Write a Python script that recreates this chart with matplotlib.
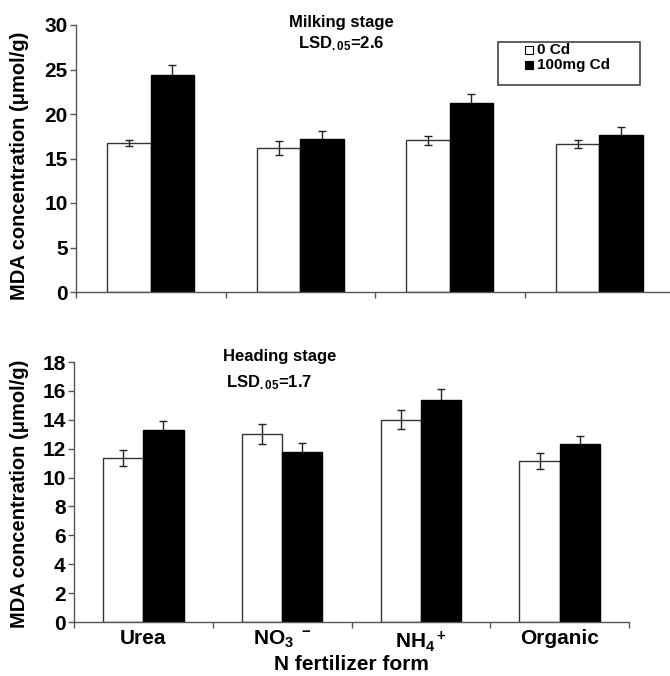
import matplotlib
matplotlib.use("Agg")
import matplotlib.pyplot as plt
import numpy as np
from matplotlib.patches import Rectangle

FAM = 'Liberation Sans'
plt.rcParams['font.family'] = [FAM, 'DejaVu Sans']
plt.rcParams['font.weight'] = 'bold'
plt.rcParams['mathtext.fontset'] = 'custom'
plt.rcParams['mathtext.rm'] = FAM + ':bold'
plt.rcParams['mathtext.it'] = FAM + ':bold'
plt.rcParams['mathtext.bf'] = FAM + ':bold'
plt.rcParams['mathtext.default'] = 'rm'

categories = ['Urea', r'NO$_3$ $^-$', r'NH$_4$$^+$', 'Organic']
series_names = ['0 Cd', '100mg Cd']

milk_0cd = [16.7, 16.15, 17.05, 16.6]
milk_0cd_err = [0.35, 0.8, 0.5, 0.45]
milk_cd = [24.35, 17.2, 21.2, 17.6]
milk_cd_err = [1.1, 0.9, 1.0, 0.9]

head_0cd = [11.35, 13.0, 14.0, 11.15]
head_0cd_err = [0.55, 0.7, 0.67, 0.55]
head_cd = [13.27, 11.8, 15.4, 12.32]
head_cd_err = [0.67, 0.58, 0.74, 0.56]

W, H = 670, 676
fig = plt.figure(figsize=(W / 100, H / 100), dpi=100)

def px_axes(left, top, right, bottom):
    return fig.add_axes([left / W, 1 - bottom / H, (right - left) / W, (bottom - top) / H])

ax1 = px_axes(76, 25, 674, 292)
ax2 = px_axes(74, 362, 629, 622)

x = np.arange(len(categories))
bw = 0.29

def draw(ax, v0, e0, v1, e1, ymax, ystep, ycenter):
    ax.bar(x - bw / 2, v0, bw, color='white', edgecolor='#333333', linewidth=1.0, zorder=2)
    ax.bar(x + bw / 2, v1, bw, color='black', edgecolor='black', linewidth=1.0, zorder=2)
    ax.errorbar(x - bw / 2, v0, yerr=e0, fmt='none', ecolor='#222222', elinewidth=1.0, capsize=3, capthick=1.0, zorder=3)
    ax.errorbar(x + bw / 2, v1, yerr=e1, fmt='none', ecolor='#222222', elinewidth=1.0, capsize=3, capthick=1.0, zorder=1)
    ax.set_xlim(-0.5, 3.5)
    ax.set_ylim(0, ymax)
    ax.set_yticks(np.arange(0, ymax + 0.1, ystep))
    ax.spines['top'].set_visible(False)
    ax.spines['right'].set_visible(False)
    for s in ('left', 'bottom'):
        ax.spines[s].set_color('#555555')
        ax.spines[s].set_linewidth(1.0)
    ax.set_xticks(np.arange(-0.5, 3.6, 1.0))
    ax.set_xticklabels([])
    ax.tick_params(axis='both', direction='out', length=4, width=1.0, color='#555555', labelsize=15, pad=2)
    for lab in ax.get_yticklabels():
        lab.set_fontweight('bold')
    fig.text(20 / W, 1 - ycenter / H, 'MDA concentration (μmol/g)', rotation=90, ha='center', va='center',
             fontsize=14.5, fontweight='bold')

draw(ax1, milk_0cd, milk_0cd_err, milk_cd, milk_cd_err, 30, 5, 166)
draw(ax2, head_0cd, head_0cd_err, head_cd, head_cd_err, 18, 2, 494)

ax2.set_xticks(x, minor=True)
ax2.set_xticklabels(categories, minor=True, fontsize=15, fontweight='bold')
ax2.tick_params(axis='x', which='minor', length=0, pad=5)
fig.text(351 / W, 1 - 664 / H, 'N fertilizer form', ha='center', va='center', fontsize=15, fontweight='bold')

fig.text(341 / W, 1 - 22 / H, 'Milking stage', ha='center', va='center', fontsize=12, fontweight='bold')
fig.text(341 / W, 1 - 44 / H, r'LSD$_{.05}$=2.6', ha='center', va='center', fontsize=12, fontweight='bold')
fig.text(280 / W, 1 - 356 / H, 'Heading stage', ha='center', va='center', fontsize=12, fontweight='bold')
fig.text(226 / W, 1 - 383 / H, r'LSD$_{.05}$=1.7', ha='left', va='center', fontsize=12, fontweight='bold')

# legend box
fig.patches.append(Rectangle((498 / W, 1 - 85 / H), 142 / W, 43 / H, transform=fig.transFigure,
                             facecolor='white', edgecolor='#444444', linewidth=1.2, zorder=5))
for i, (name, fc) in enumerate(zip(series_names, ['white', 'black'])):
    yy = 50 + 15 * i
    fig.patches.append(Rectangle((525 / W, 1 - (yy + 4) / H), 8 / W, 8 / H, transform=fig.transFigure,
                                 facecolor=fc, edgecolor='black', linewidth=0.8, zorder=6))
    fig.text(537 / W, 1 - yy / H, name, ha='left', va='center', fontsize=11, fontweight='bold', zorder=7)

fig.savefig('out.png', dpi=100)
